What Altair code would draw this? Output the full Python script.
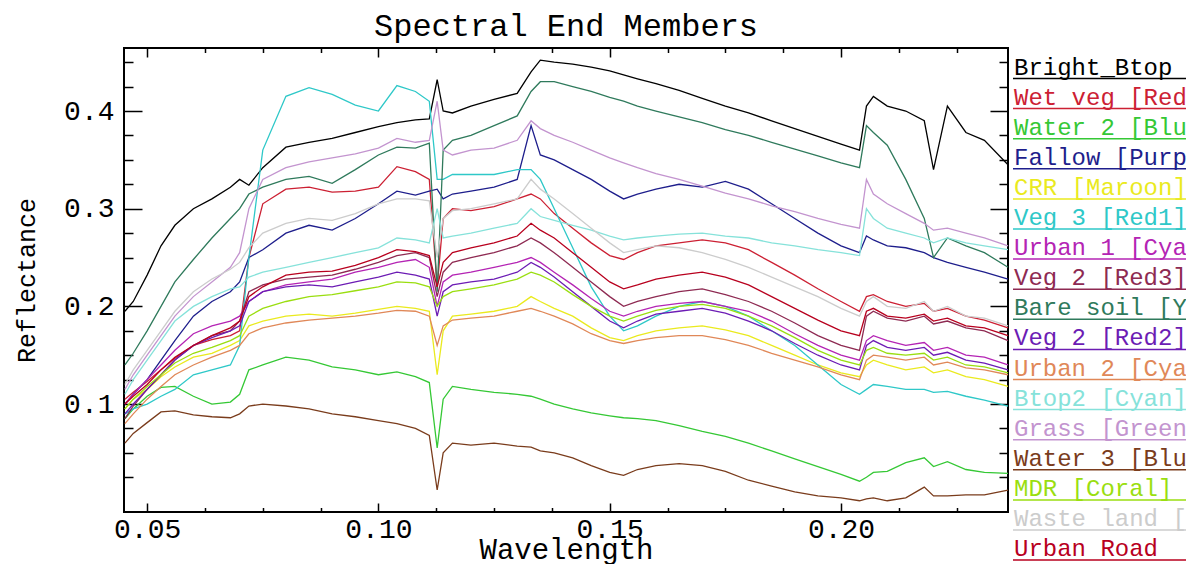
import altair as alt
import pandas as pd

WAVELENGTH = [0.0452, 0.047, 0.050, 0.053, 0.056, 0.060, 0.064, 0.068,
              0.070, 0.072, 0.075, 0.080, 0.085, 0.090, 0.095, 0.100, 0.104, 0.108, 0.111,
              0.1127, 0.114, 0.116, 0.120, 0.125, 0.130, 0.133, 0.135,
              0.138, 0.142, 0.146, 0.150, 0.153, 0.156, 0.160, 0.165, 0.170, 0.175, 0.180,
              0.185, 0.190, 0.195, 0.200,
              0.204, 0.2055, 0.207, 0.210, 0.214, 0.218, 0.220, 0.223, 0.227, 0.231, 0.2361]

BRIGHT_BTOP = [0.195, 0.205, 0.232, 0.262, 0.283, 0.300, 0.310, 0.322,
               0.330, 0.324, 0.342, 0.363, 0.368, 0.372, 0.378, 0.384, 0.388, 0.391, 0.392,
               0.432, 0.400, 0.398, 0.405, 0.412, 0.418, 0.440, 0.452,
               0.450, 0.448, 0.445, 0.441, 0.437, 0.433, 0.428, 0.421, 0.413, 0.405, 0.398,
               0.390, 0.382, 0.374, 0.366,
               0.360, 0.405, 0.415, 0.405, 0.400, 0.390, 0.340, 0.405, 0.378, 0.370, 0.345]
WET_VEG = [0.105, 0.112, 0.123, 0.135, 0.147, 0.160, 0.166, 0.170,
           0.175, 0.250, 0.305, 0.320, 0.322, 0.317, 0.318, 0.322, 0.343, 0.338, 0.330,
           0.220, 0.290, 0.300, 0.298, 0.302, 0.310, 0.315, 0.310,
           0.295, 0.280, 0.265, 0.252, 0.248, 0.255, 0.262, 0.265, 0.268, 0.265, 0.258,
           0.245, 0.232, 0.218, 0.205,
           0.195, 0.210, 0.212, 0.205, 0.200, 0.203, 0.195, 0.198, 0.190, 0.186, 0.178]
WATER_2 = [0.085, 0.095, 0.108, 0.117, 0.118, 0.108, 0.100, 0.102,
           0.110, 0.135, 0.140, 0.148, 0.145, 0.138, 0.135, 0.130, 0.133, 0.128, 0.122,
           0.055, 0.105, 0.118, 0.115, 0.112, 0.110, 0.108, 0.105,
           0.100, 0.095, 0.091, 0.088, 0.086, 0.085, 0.083, 0.078, 0.072, 0.067, 0.060,
           0.052, 0.044, 0.036, 0.028,
           0.021, 0.025, 0.030, 0.031, 0.040, 0.045, 0.036, 0.041, 0.033, 0.030, 0.029]
FALLOW = [0.100, 0.110, 0.125, 0.145, 0.165, 0.190, 0.205, 0.215,
          0.225, 0.250, 0.258, 0.275, 0.283, 0.278, 0.290, 0.305, 0.318, 0.314, 0.318,
          0.320, 0.310, 0.315, 0.318, 0.322, 0.330, 0.385, 0.355,
          0.350, 0.340, 0.330, 0.318, 0.310, 0.315, 0.320, 0.325, 0.322, 0.328, 0.320,
          0.305, 0.290, 0.275, 0.262,
          0.255, 0.272, 0.268, 0.262, 0.260, 0.255, 0.250, 0.245, 0.240, 0.235, 0.228]
CRR = [0.095, 0.105, 0.115, 0.128, 0.138, 0.148, 0.152, 0.160,
       0.165, 0.180, 0.185, 0.190, 0.192, 0.190, 0.193, 0.197, 0.200, 0.198, 0.195,
       0.130, 0.175, 0.190, 0.192, 0.195, 0.200, 0.210, 0.205,
       0.198, 0.190, 0.178, 0.168, 0.165, 0.170, 0.175, 0.178, 0.180, 0.176, 0.170,
       0.160, 0.150, 0.140, 0.132,
       0.128, 0.140, 0.145, 0.140, 0.135, 0.138, 0.132, 0.135, 0.128, 0.125, 0.118]
VEG_3 = [0.090, 0.095, 0.100, 0.108, 0.115, 0.130, 0.135, 0.140,
         0.160, 0.250, 0.360, 0.415, 0.424, 0.417, 0.406, 0.400, 0.426, 0.420, 0.410,
         0.330, 0.330, 0.335, 0.335, 0.335, 0.340, 0.340, 0.330,
         0.300, 0.260, 0.220, 0.190, 0.175, 0.180, 0.190, 0.200, 0.205, 0.200, 0.190,
         0.175, 0.160, 0.140, 0.120,
         0.110, 0.115, 0.120, 0.118, 0.115, 0.115, 0.112, 0.113, 0.108, 0.104, 0.098]
URBAN_1 = [0.100, 0.110, 0.125, 0.140, 0.155, 0.172, 0.180, 0.185,
           0.190, 0.205, 0.215, 0.222, 0.225, 0.228, 0.235, 0.240, 0.245, 0.248, 0.240,
           0.200, 0.225, 0.232, 0.235, 0.240, 0.245, 0.250, 0.245,
           0.235, 0.222, 0.208, 0.195, 0.190, 0.195, 0.200, 0.203, 0.205, 0.200, 0.195,
           0.185, 0.172, 0.160, 0.150,
           0.145, 0.165, 0.170, 0.165, 0.160, 0.163, 0.155, 0.158, 0.150, 0.148, 0.140]
VEG_2_RED3 = [0.085, 0.098, 0.115, 0.130, 0.145, 0.160, 0.170, 0.175,
              0.185, 0.215, 0.222, 0.228, 0.230, 0.232, 0.238, 0.245, 0.252, 0.255, 0.250,
              0.210, 0.235, 0.245, 0.250, 0.255, 0.262, 0.270, 0.265,
              0.255, 0.240, 0.225, 0.210, 0.200, 0.205, 0.210, 0.215, 0.218, 0.212, 0.205,
              0.195, 0.183, 0.170, 0.160,
              0.155, 0.190, 0.195, 0.188, 0.185, 0.190, 0.182, 0.185, 0.178, 0.175, 0.165]
BARE_SOIL = [0.140, 0.152, 0.175, 0.200, 0.225, 0.248, 0.270, 0.290,
             0.300, 0.315, 0.322, 0.330, 0.333, 0.326, 0.340, 0.355, 0.363, 0.362, 0.367,
             0.215, 0.360, 0.370, 0.375, 0.385, 0.395, 0.420, 0.430,
             0.430, 0.425, 0.420, 0.414, 0.410, 0.405, 0.400, 0.394, 0.388, 0.381, 0.375,
             0.368, 0.361, 0.354, 0.347,
             0.342, 0.385, 0.378, 0.365, 0.330, 0.290, 0.250, 0.270, 0.262, 0.255, 0.240]
VEG_2_RED2 = [0.090, 0.100, 0.115, 0.130, 0.145, 0.160, 0.168, 0.175,
              0.180, 0.205, 0.215, 0.220, 0.222, 0.220, 0.225, 0.230, 0.235, 0.232, 0.228,
              0.190, 0.215, 0.222, 0.225, 0.228, 0.235, 0.245, 0.240,
              0.230, 0.215, 0.200, 0.185, 0.178, 0.185, 0.192, 0.195, 0.198, 0.193, 0.185,
              0.175, 0.162, 0.150, 0.140,
              0.135, 0.160, 0.165, 0.158, 0.155, 0.158, 0.150, 0.153, 0.145, 0.142, 0.135]
URBAN_2 = [0.080, 0.090, 0.105, 0.118, 0.130, 0.140, 0.148, 0.155,
           0.160, 0.172, 0.178, 0.183, 0.186, 0.188, 0.190, 0.193, 0.196, 0.195, 0.190,
           0.160, 0.180, 0.186, 0.188, 0.190, 0.195, 0.198, 0.195,
           0.190, 0.182, 0.172, 0.165, 0.162, 0.165, 0.168, 0.170, 0.170, 0.166, 0.160,
           0.152, 0.145, 0.138, 0.130,
           0.125, 0.145, 0.150, 0.148, 0.145, 0.148, 0.140, 0.143, 0.137, 0.135, 0.130]
BTOP2 = [0.110, 0.125, 0.145, 0.165, 0.185, 0.200, 0.210, 0.218,
         0.220, 0.230, 0.235, 0.240, 0.245, 0.250, 0.255, 0.260, 0.270, 0.268, 0.265,
         0.300, 0.270, 0.272, 0.275, 0.280, 0.285, 0.300, 0.292,
         0.288, 0.283, 0.278, 0.272, 0.268, 0.270, 0.272, 0.274, 0.275, 0.272, 0.270,
         0.265, 0.262, 0.258, 0.255,
         0.252, 0.300, 0.290, 0.280, 0.275, 0.270, 0.265, 0.270, 0.265, 0.262, 0.258]
GRASS = [0.115, 0.130, 0.150, 0.170, 0.190, 0.210, 0.225, 0.240,
         0.255, 0.300, 0.330, 0.342, 0.348, 0.352, 0.356, 0.362, 0.372, 0.368, 0.370,
         0.410, 0.360, 0.355, 0.360, 0.362, 0.370, 0.390, 0.382,
         0.375, 0.368, 0.360, 0.352, 0.347, 0.342, 0.336, 0.330, 0.323, 0.316, 0.310,
         0.303, 0.297, 0.290, 0.284,
         0.280, 0.330, 0.315, 0.305, 0.295, 0.285, 0.278, 0.280, 0.275, 0.270, 0.262]
WATER_3 = [0.060, 0.070, 0.081, 0.092, 0.093, 0.089, 0.087, 0.086,
           0.090, 0.098, 0.100, 0.098, 0.095, 0.090, 0.087, 0.083, 0.080, 0.075, 0.068,
           0.012, 0.050, 0.060, 0.058, 0.060, 0.057, 0.056, 0.052,
           0.050, 0.045, 0.037, 0.030, 0.027, 0.033, 0.037, 0.039, 0.037, 0.031, 0.022,
           0.016, 0.010, 0.006, 0.004,
           0.001, 0.003, 0.004, 0.001, 0.004, 0.015, 0.006, 0.006, 0.007, 0.007, 0.012]
MDR = [0.095, 0.105, 0.118, 0.130, 0.142, 0.152, 0.158, 0.165,
       0.170, 0.190, 0.198, 0.205, 0.210, 0.212, 0.216, 0.220, 0.225, 0.224, 0.220,
       0.200, 0.210, 0.215, 0.218, 0.222, 0.228, 0.235, 0.232,
       0.225, 0.212, 0.200, 0.190, 0.185, 0.190, 0.196, 0.200, 0.202, 0.198, 0.190,
       0.180, 0.168, 0.155, 0.145,
       0.140, 0.155, 0.158, 0.152, 0.150, 0.152, 0.145, 0.148, 0.140, 0.138, 0.132]
WASTE_LAND = [0.120, 0.135, 0.155, 0.175, 0.195, 0.215, 0.228, 0.238,
              0.245, 0.260, 0.275, 0.285, 0.290, 0.288, 0.295, 0.305, 0.310, 0.310, 0.308,
              0.250, 0.290, 0.298, 0.300, 0.305, 0.310, 0.330, 0.320,
              0.310, 0.295, 0.280, 0.265, 0.255, 0.258, 0.262, 0.260, 0.255, 0.248, 0.240,
              0.230, 0.220, 0.210, 0.198,
              0.190, 0.205, 0.210, 0.200, 0.198, 0.205, 0.195, 0.200, 0.190, 0.188, 0.180]
URBAN_ROAD = [0.100, 0.108, 0.120, 0.135, 0.148, 0.160, 0.170, 0.178,
              0.185, 0.210, 0.220, 0.232, 0.235, 0.236, 0.242, 0.250, 0.258, 0.256, 0.252,
              0.220, 0.245, 0.255, 0.260, 0.265, 0.272, 0.285, 0.278,
              0.270, 0.255, 0.240, 0.225, 0.218, 0.222, 0.228, 0.232, 0.235, 0.230, 0.222,
              0.210, 0.198, 0.186, 0.175,
              0.170, 0.195, 0.198, 0.190, 0.188, 0.192, 0.185, 0.188, 0.180, 0.178, 0.170]

NAMES = ["Bright_Btop", "Wet veg [Red]", "Water 2 [Blue]", "Fallow [Purple]",
         "CRR [Maroon]", "Veg 3 [Red1]", "Urban 1 [Cyan]", "Veg 2 [Red3]",
         "Bare soil [Yellow]", "Veg 2 [Red2]", "Urban 2 [Cyan2]", "Btop2 [Cyan]",
         "Grass [Green]", "Water 3 [Blue]", "MDR [Coral]", "Waste land [Gray]", "Urban Road"]
COLORS = ["#000000", "#cc2033", "#35c835", "#1e1e8c", "#eaea1e", "#2ec8c8",
          "#b424b4", "#8e2a52", "#2f7a5c", "#6c1cb4", "#e08858", "#86e2da",
          "#c394cf", "#7a3c1c", "#9ade10", "#cccccc", "#b8001e"]
SERIES = [BRIGHT_BTOP, WET_VEG, WATER_2, FALLOW, CRR, VEG_3, URBAN_1, VEG_2_RED3,
          BARE_SOIL, VEG_2_RED2, URBAN_2, BTOP2, GRASS, WATER_3, MDR, WASTE_LAND, URBAN_ROAD]

X_DOMAIN = [0.045, 0.2361]
Y_DOMAIN = [-0.0105, 0.4645]
X_MAJOR = [0.05, 0.10, 0.15, 0.20]
X_MINOR = [0.0625, 0.075, 0.0875, 0.1125, 0.125, 0.1375, 0.1625, 0.175, 0.1875, 0.2125, 0.225]
Y_MAJOR = [0.1, 0.2, 0.3, 0.4]
Y_MINOR = [0.025, 0.05, 0.075, 0.125, 0.15, 0.175, 0.225, 0.25, 0.275,
           0.325, 0.35, 0.375, 0.425, 0.45]

rows = []
for name, vals in zip(NAMES, SERIES):
    for w, r in zip(WAVELENGTH, vals):
        rows.append({"name": name, "wl": w, "refl": r})
df = pd.DataFrame(rows)
legend_df = pd.DataFrame({"name": NAMES})

FONT = "Liberation Mono"
W, H = 884, 464

color = alt.Color("name:N", scale=alt.Scale(domain=NAMES, range=COLORS), legend=None)


def xenc(axis):
    return alt.X("wl:Q", scale=alt.Scale(domain=X_DOMAIN, nice=False, zero=False), axis=axis)


def yenc(axis):
    return alt.Y("refl:Q", scale=alt.Scale(domain=Y_DOMAIN, nice=False, zero=False), axis=axis)


def tick_axis(orient, values, length):
    return alt.Axis(orient=orient, values=values, tickSize=length, offset=-length,
                    labels=False, domain=False, grid=False, title="",
                    tickColor="black", tickWidth=1.5)


main = alt.Chart(df).mark_line(strokeWidth=1.3).encode(
    x=xenc(alt.Axis(orient="bottom", values=X_MAJOR, format=".2f", ticks=False,
                    domain=False, grid=False, labelFont=FONT, labelFontSize=28,
                    labelColor="black", labelPadding=3, labelFlush=False,
                    title="Wavelength", titleFont=FONT, titleFontSize=29,
                    titleFontWeight="normal", titleColor="black", titleX=W / 2,
                    titleY=46, titleBaseline="alphabetic", titleAlign="center")),
    y=yenc(alt.Axis(orient="left", values=Y_MAJOR, format=".1f", ticks=False,
                    domain=False, grid=False, labelFont=FONT, labelFontSize=28,
                    labelColor="black", labelPadding=10, labelFlush=False,
                    title="Reflectance", titleFont=FONT, titleFontSize=25,
                    titleFontWeight="normal", titleColor="black", titleX=-98,
                    titleY=H / 2, titleAngle=270, titleBaseline="middle",
                    titleAlign="center")),
    color=color,
)


def tick_layer(xo, xv, xl, yo, yv, yl):
    return alt.Chart(df).mark_line(opacity=0).encode(
        x=xenc(tick_axis(xo, xv, xl)),
        y=yenc(tick_axis(yo, yv, yl)),
        detail="name:N",
    )


t1 = tick_layer("bottom", X_MAJOR, 9, "left", Y_MAJOR, 18)
t2 = tick_layer("bottom", X_MINOR, 4.5, "left", Y_MINOR, 9)
t3 = tick_layer("top", X_MAJOR, 9, "right", Y_MAJOR, 18)
t4 = tick_layer("top", X_MINOR, 4.5, "right", Y_MINOR, 9)

leg_y = alt.Y("name:N", sort=NAMES,
              scale=alt.Scale(type="point", domain=NAMES, range=[19.5, 501.1], padding=0),
              axis=None)

leg_text = alt.Chart(legend_df).mark_text(
    align="left", baseline="middle", font=FONT, fontSize=24
).encode(x=alt.value(890), y=leg_y, text="name:N", color=color)

leg_rule = alt.Chart(legend_df).mark_rule(strokeWidth=1.5, yOffset=11).encode(
    x=alt.value(889), x2=alt.value(1300), y=leg_y, color=color
)

chart = alt.layer(main, t1, t2, t3, t4, leg_rule, leg_text).resolve_scale(
    y="independent"
).resolve_axis(
    x="independent", y="independent"
).properties(
    width=W, height=H,
    padding={"left": 116, "top": 40, "right": 178, "bottom": 52},
    autosize=alt.AutoSizeParams(type="none"),
    background="white",
    title=alt.Title("Spectral End Members", font=FONT, fontSize=32,
                    fontWeight="normal", color="black", offset=4, anchor="middle"),
).configure_view(stroke="black", strokeWidth=2)

chart.save("out.html", embed_options={"renderer": "svg", "actions": False})
